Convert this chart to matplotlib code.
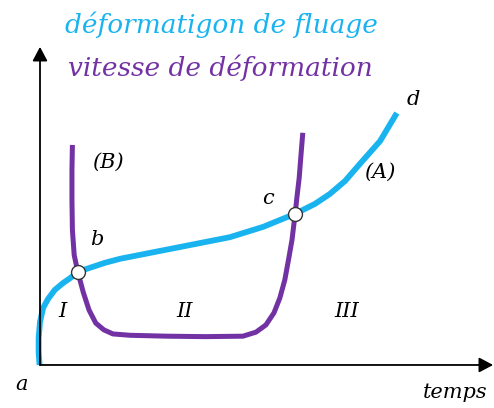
import matplotlib
matplotlib.use("Agg")
import matplotlib.pyplot as plt
import numpy as np

# courbe de fluage (A): temps, deformation
t_fluage = [-0.01, -0.03, -0.03, 0, 0.07, 0.18, 0.33, 0.51, 0.67, 0.84, 1.11, 1.44, 1.78,
            2.44, 3.0, 3.56, 4.22, 4.96, 5.67, 6.11, 6.44, 6.78, 7.11, 7.56, 7.93]
e_fluage = [0, 0.29, 0.6, 0.96, 1.27, 1.47, 1.67, 1.82, 1.93, 2.07, 2.16, 2.27, 2.36,
            2.49, 2.6, 2.71, 2.84, 3.07, 3.36, 3.58, 3.8, 4.09, 4.47, 4.98, 5.6]

# vitesse de deformation (B)
t_vitesse = [0.72, 0.71, 0.71, 0.72, 0.76, 0.84, 0.96, 1.09, 1.24, 1.42, 1.62, 2.0, 2.82, 3.67,
             4.51, 4.8, 5.02, 5.2, 5.33, 5.44, 5.53, 5.6, 5.67, 5.71, 5.76, 5.8, 5.84]
v_vitesse = [4.89, 4.33, 3.67, 3.0, 2.44, 2.07, 1.62, 1.22, 0.93, 0.78, 0.69, 0.66, 0.64, 0.63,
             0.64, 0.73, 0.89, 1.16, 1.49, 1.89, 2.38, 2.78, 3.36, 3.73, 4.16, 4.67, 5.16]

# points b et c
pts_t = [0.84, 5.67]
pts_e = [2.07, 3.36]

cyan = '#19b4ef'
violet = '#7232a4'
serif = {'family': 'DejaVu Serif', 'style': 'italic'}

fig = plt.figure(figsize=(4.94, 4.08), dpi=100)
ax = fig.add_axes([0, 0, 1, 1])
ax.set_xlim(-0.889, 10.089)
ax.set_ylim(-0.956, 8.111)
ax.axis('off')

# axes avec fleches
fleche = dict(arrowstyle='-|>,head_length=0.85,head_width=0.45', lw=1.3, color='k',
              shrinkA=0, shrinkB=0)
ax.annotate('', xy=(0, 7.07), xytext=(0, 0), arrowprops=fleche)
ax.annotate('', xy=(10.07, 0), xytext=(0, 0), arrowprops=fleche)

ax.plot(t_vitesse, v_vitesse, color=violet, lw=3.6, solid_capstyle='butt', solid_joinstyle='round')
ax.plot(t_fluage, e_fluage, color=cyan, lw=4.2, solid_capstyle='butt', solid_joinstyle='round')
ax.plot(pts_t, pts_e, 'o', ms=10, mfc='white', mec='#333333', mew=1.0, zorder=5)

fs = 15
ax.text(1.51, 4.51, '(B)', fontsize=fs, ha='center', va='center', **serif)
ax.text(1.27, 2.78, 'b', fontsize=fs, ha='center', va='center', **serif)
ax.text(5.07, 3.71, 'c', fontsize=fs, ha='center', va='center', **serif)
ax.text(7.56, 4.29, '(A)', fontsize=fs, ha='center', va='center', **serif)
ax.text(8.29, 5.89, 'd', fontsize=fs, ha='center', va='center', **serif)
ax.text(0.49, 1.18, 'I', fontsize=fs, ha='center', va='center', **serif)
ax.text(3.22, 1.18, 'II', fontsize=fs, ha='center', va='center', **serif)
ax.text(6.82, 1.18, 'III', fontsize=fs, ha='center', va='center', **serif)
ax.text(-0.4, -0.44, 'a', fontsize=fs, ha='center', va='center', **serif)
ax.text(9.22, -0.62, 'temps', fontsize=fs, ha='center', va='center', **serif)

fig.text(0.132, 0.939, 'déformatigon de fluage', color=cyan, fontsize=19, ha='left', va='center', **serif)
fig.text(0.138, 0.833, 'vitesse de déformation', color=violet, fontsize=19, ha='left', va='center', **serif)

fig.savefig('out.png', dpi=100)
